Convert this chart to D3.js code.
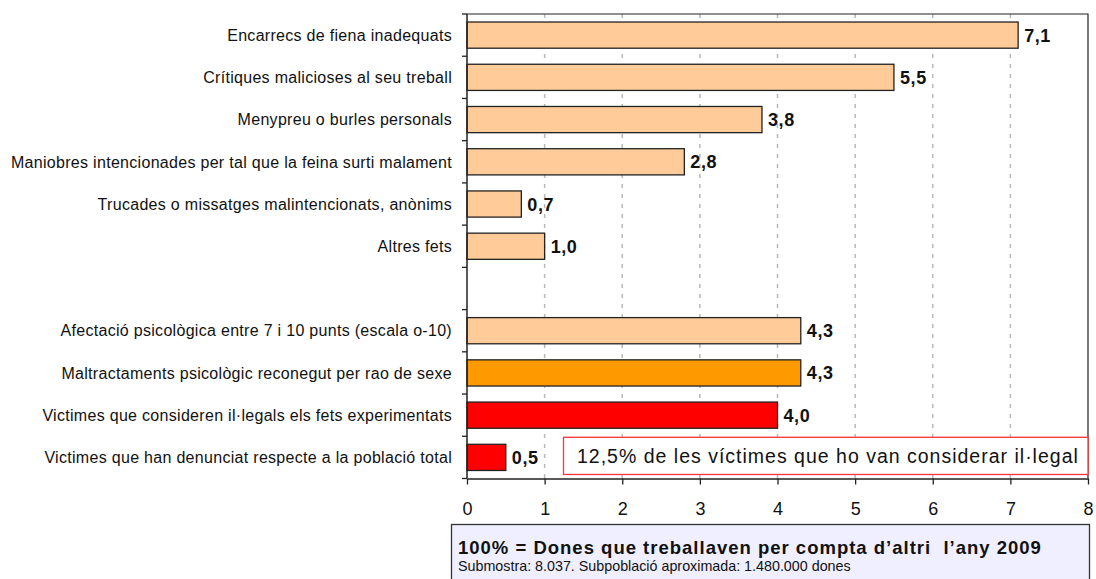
<!DOCTYPE html>
<html>
<head>
<meta charset="utf-8">
<script src="https://cdn.jsdelivr.net/npm/d3@7"></script>
<style>
  body { margin: 0; background: #fff; }
  text { font-family: "Liberation Sans", Arial, sans-serif; }
</style>
</head>
<body>
<div id="chart"></div>
<script>
// categories, top to bottom ("" = empty spacer row)
var categories = [
  "Encarrecs de fiena inadequats",
  "Crítiques malicioses al seu treball",
  "Menypreu o burles personals",
  "Maniobres intencionades per tal que la feina surti malament",
  "Trucades o missatges malintencionats, anònims",
  "Altres fets",
  "",
  "Afectació psicològica entre 7 i 10 punts (escala o-10)",
  "Maltractaments psicològic reconegut per rao de sexe",
  "Victimes que consideren il·legals els fets experimentats",
  "Victimes que han denunciat respecte a la població total"
];
var values = [7.1, 5.5, 3.8, 2.8, 0.7, 1.0, null, 4.3, 4.3, 4.0, 0.5];
var barGroups = ["fets", "fets", "fets", "fets", "fets", "fets", null, "fets", "reconegut", "legal", "legal"];
var xTicks = [0, 1, 2, 3, 4, 5, 6, 7, 8];
var noteText = "12,5% de les víctimes que ho van considerar il·legal";
var footTitle = "100% = Dones que treballaven per compta d\u2019altri  l\u2019any 2009";
var footSub = "Submostra: 8.037. Subpoblació aproximada: 1.480.000 dones";

var width = 1096, height = 579;
var margin = { top: 14, left: 467, right: 8, bottom: 100 };

var svg = d3.select("#chart").append("svg")
  .attr("width", width)
  .attr("height", height);

var x = d3.scaleLinear().domain([0, 8]).range([margin.left, width - margin.right]);
var y = d3.scaleBand().domain(d3.range(categories.length))
  .range([margin.top, height - margin.bottom - 0.5])
  .paddingInner(0.38).paddingOuter(0.19);
var yEdges = d3.scaleLinear().domain([0, categories.length]).range([margin.top, height - margin.bottom - 0.5]);

var color = d3.scaleOrdinal()
  .domain(["fets", "reconegut", "legal"])
  .range(["#FFCC99", "#FF9900", "#FF0000"]);

// dashed grid lines
svg.append("g").selectAll("line")
  .data(xTicks.slice(1, -1))
  .enter().append("line")
  .attr("x1", d => x(d)).attr("x2", d => x(d))
  .attr("y1", margin.top).attr("y2", yEdges(categories.length))
  .attr("stroke", "#b8b8b8")
  .attr("stroke-width", 1.5)
  .attr("stroke-dasharray", "4,6");

// plot frame top/right
svg.append("path")
  .attr("d", "M" + x(0) + "," + margin.top + "H" + x(8) + "V" + yEdges(categories.length))
  .attr("fill", "none").attr("stroke", "#222").attr("stroke-width", 1.2);

// bars
var rows = categories.map((c, i) => ({ i: i, name: c, value: values[i], group: barGroups[i] }));
svg.append("g").selectAll("rect")
  .data(rows.filter(d => d.value != null))
  .enter().append("rect")
  .attr("x", x(0))
  .attr("y", d => y(d.i))
  .attr("width", d => x(d.value) - x(0))
  .attr("height", y.bandwidth())
  .attr("fill", d => color(d.group))
  .attr("stroke", "#222")
  .attr("stroke-width", 1.3);

// value labels
svg.append("g").selectAll("text")
  .data(rows.filter(d => d.value != null))
  .enter().append("text")
  .attr("x", d => x(d.value) + 6)
  .attr("y", d => y(d.i) + y.bandwidth() / 2)
  .attr("dy", "0.36em")
  .style("font-size", "18px")
  .style("font-weight", "bold")
  .style("letter-spacing", "0.6px")
  .attr("fill", "#111")
  .text(d => d3.format(".1f")(d.value).replace(".", ","));

// category labels
svg.append("g").selectAll("text")
  .data(rows)
  .enter().append("text")
  .attr("x", margin.left - 15)
  .attr("y", d => y(d.i) + y.bandwidth() / 2)
  .attr("dy", "0.36em")
  .attr("text-anchor", "end")
  .style("font-size", "16px")
  .style("letter-spacing", "0.3px")
  .attr("fill", "#111")
  .text(d => d.name);

// left axis with ticks at band edges
svg.append("line")
  .attr("x1", x(0)).attr("x2", x(0))
  .attr("y1", margin.top).attr("y2", yEdges(categories.length))
  .attr("stroke", "#222").attr("stroke-width", 1.5);
svg.append("g").selectAll("line")
  .data(d3.range(categories.length + 1))
  .enter().append("line")
  .attr("x1", x(0) - 5).attr("x2", x(0))
  .attr("y1", d => yEdges(d)).attr("y2", d => yEdges(d))
  .attr("stroke", "#222").attr("stroke-width", 1.3);

// bottom axis
var xAxis = svg.append("g")
  .attr("transform", "translate(0," + yEdges(categories.length) + ")")
  .call(d3.axisBottom(x).tickValues(xTicks).tickSize(6).tickPadding(18).tickSizeOuter(0));
xAxis.select(".domain").attr("stroke", "#222").attr("stroke-width", 1.5);
xAxis.selectAll(".tick line").attr("stroke", "#222").attr("stroke-width", 1.3);
xAxis.selectAll("text")
  .style("font-size", "18px")
  .style("font-family", "'Liberation Sans', Arial, sans-serif")
  .attr("fill", "#111");

// annotation box next to the last bar
var lastRow = categories.length - 1;
svg.append("rect")
  .attr("x", 563.5).attr("y", y(lastRow) - 7)
  .attr("width", x(8) - 563.5).attr("height", y.bandwidth() + 11)
  .attr("fill", "#fff").attr("stroke", "#FF3333").attr("stroke-width", 1.3);
svg.append("text")
  .attr("x", 577)
  .attr("y", y(lastRow) + y.bandwidth() / 2 - 1.5)
  .attr("dy", "0.36em")
  .style("font-size", "19.5px")
  .style("letter-spacing", "1px")
  .attr("fill", "#111")
  .text(noteText);

// footer box
svg.append("rect")
  .attr("x", 451.5).attr("y", 524.5)
  .attr("width", 638).attr("height", 70)
  .attr("fill", "#EFEFFF").attr("stroke", "#333").attr("stroke-width", 1.3);
svg.append("text")
  .attr("x", 458).attr("y", 554)
  .style("font-size", "18.5px").style("font-weight", "bold")
  .style("letter-spacing", "1px")
  .style("white-space", "pre")
  .attr("fill", "#111")
  .text(footTitle);
svg.append("text")
  .attr("x", 458).attr("y", 571)
  .style("font-size", "14.3px")
  .attr("fill", "#111")
  .text(footSub);
</script>
</body>
</html>
